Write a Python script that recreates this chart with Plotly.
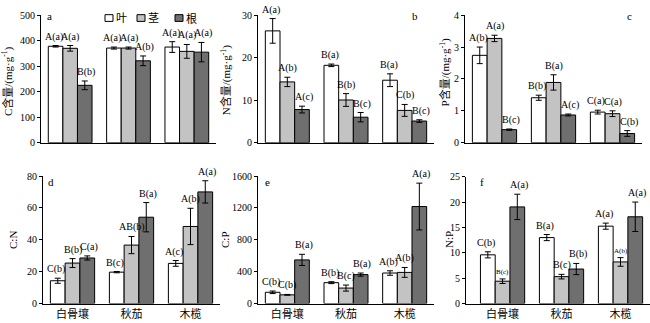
import plotly.graph_objects as go

W, H = 650, 323

sites = ["白骨壤", "秋茄", "木榄"]
organs = ["叶", "茎", "根"]
colors = ["#ffffff", "#c3c3c3", "#6f6f6f"]

# values[organ][site]
C_val = [[378, 371, 375], [370, 371, 358], [225, 321, 355]]
C_err = [[3, 4, 21], [11, 4, 27], [17, 19, 38]]
C_lab = [["A(a)", "A(a)", "A(a)"], ["A(a)", "A(a)", "A(a)"], ["B(b)", "A(b)", "A(a)"]]

N_val = [[26.3, 18.2, 14.7], [14.3, 10.05, 7.6], [7.8, 6.0, 5.1]]
N_err = [[2.9, 0.3, 1.5], [1.1, 1.5, 1.4], [0.8, 1.1, 0.3]]
N_lab = [["A(a)", "B(a)", "B(a)"], ["A(b)", "B(b)", "C(b)"], ["A(c)", "B(c)", "B(c)"]]

P_val = [[2.74, 1.41, 0.96], [3.27, 1.89, 0.91], [0.41, 0.87, 0.29]]
P_err = [[0.26, 0.08, 0.06], [0.1, 0.24, 0.09], [0.02, 0.03, 0.09]]
P_lab = [["A(b)", "B(b)", "C(a)"], ["A(a)", "B(a)", "C(a)"], ["B(c)", "A(c)", "C(b)"]]

CN_val = [[14.3, 19.7, 25.2], [25.4, 36.7, 48.4], [28.6, 54.2, 70.1]]
CN_err = [[1.6, 0.4, 1.8], [2.8, 5.4, 11.4], [1.3, 9.2, 7.0]]
CN_lab = [["C(b)", "B(c)", "A(c)"], ["B(b)", "AB(b)", "A(b)"], ["C(a)", "B(a)", "A(a)"]]

CP_val = [[141, 262, 383], [109, 194, 391], [548, 363, 1218]]
CP_err = [[16, 12, 28], [5, 38, 62], [70, 20, 294]]
CP_lab = [["C(b)", "B(b)", "A(b)"], ["C(b)", "B(c)", "A(b)"], ["B(a)", "B(a)", "A(a)"]]

NP_val = [[9.6, 13.0, 15.25], [4.4, 5.3, 8.2], [19.05, 6.8, 17.1]]
NP_err = [[0.6, 0.6, 0.6], [0.45, 0.45, 0.85], [2.5, 1.1, 2.9]]
NP_lab = [["C(b)", "B(a)", "A(a)"], ["B(c)", "B(c)", "A(b)"], ["A(a)", "B(b)", "A(a)"]]

titles = ["C含量/(mg·g<sup>-1</sup>)", "N含量/(mg·g<sup>-1</sup>)", "P含量/(mg·g<sup>-1</sup>)", "C:N", "C:P", "N:P"]
panel_letters = ["a", "b", "c", "d", "e", "f"]
y_ranges = [[0, 500], [0, 30], [0, 4], [0, 80], [0, 1600], [0, 25]]
y_ticks = [[0, 100, 200, 300, 400, 500], [0, 10, 20, 30], [0, 1, 2, 3, 4],
           [0, 20, 40, 60, 80], [0, 400, 800, 1200, 1600], [0, 5, 10, 15, 20, 25]]

panels = [(C_val, C_err, C_lab), (N_val, N_err, N_lab), (P_val, P_err, P_lab),
          (CN_val, CN_err, CN_lab), (CP_val, CP_err, CP_lab), (NP_val, NP_err, NP_lab)]

# pixel layout (left, right) of x axes and (bottom, top) of y axes
x_px = [(41, 216), (258, 434), (465, 642), (43, 220), (258, 434), (466, 650)]
x_rng = [[-0.5, 2.5], [-0.5, 2.5], [-0.5, 2.5], [-0.5, 2.5], [-0.5, 2.5], [-0.62, 2.5]]
y_px = [(142, 9.5), (142, 9.5), (142, 9.5), (309, 176.7), (309, 176.7), (309, 177.3)]
title_pos = [(7, 78), (226, 77), (445, 69), (13, 243), (225, 243), (449, 243)]
letter_pos = [(49, 10), (415, 10), (629, 10), (51, 183), (267, 183), (482, 183)]

FONT = "Liberation Serif, Times New Roman, Noto Sans CJK SC, serif"

fig = go.Figure()
annotations = []
shapes = []
layout = {}

for p, (vals, errs, labs) in enumerate(panels):
    sx = "" if p == 0 else str(p + 1)
    xa, ya = "x" + sx, "y" + sx
    for j in range(3):
        fig.add_trace(go.Bar(
            x=[0, 1, 2], y=vals[j], name=organs[j], xaxis=xa, yaxis=ya,
            marker=dict(color=colors[j], line=dict(color="#000000", width=1)),
            error_y=dict(type="data", array=errs[j], visible=True, color="#000000",
                         thickness=1, width=3),
            offsetgroup=str(j), showlegend=False,
        ))
        for i in range(3):
            lab = labs[j][i]
            small = (p == 5 and j == 1 and i in (0, 2))
            annotations.append(dict(
                x=i + (j - 1) * 0.25, y=vals[j][i] + errs[j][i], xref=xa, yref=ya,
                text=lab, showarrow=False, yanchor="bottom", yshift=1,
                xshift=(j - 1) * 1.5,
                font=dict(family=FONT, size=7 if small else 10, color="#000000"),
            ))
    l, r = x_px[p]
    b, t = y_px[p]
    bottom = p >= 3
    xdict = dict(
        domain=[l / W, r / W], anchor=ya, range=x_rng[p],
        showticklabels=bottom, ticks="", showline=True, linecolor="#000000",
        linewidth=1, showgrid=False, zeroline=False,
        tickfont=dict(family=FONT, size=11, color="#000000"),
    )
    if bottom:
        xdict.update(tickvals=[0, 1, 2], ticktext=sites)
    layout["xaxis" + sx] = xdict
    layout["yaxis" + sx] = dict(
        domain=[1 - b / H, 1 - t / H], anchor=xa, range=y_ranges[p],
        tickvals=y_ticks[p], ticks="outside", ticklen=3, tickcolor="#000000",
        showline=True, linecolor="#000000", linewidth=1, showgrid=False,
        zeroline=False, tickfont=dict(family=FONT, size=10, color="#000000"),
    )
    tx, ty = title_pos[p]
    annotations.append(dict(
        x=tx / W, y=1 - ty / H, xref="paper", yref="paper", text=titles[p],
        textangle=-90, showarrow=False, xanchor="center", yanchor="middle",
        font=dict(family=FONT, size=11, color="#000000"),
    ))
    lx, ly = letter_pos[p]
    annotations.append(dict(
        x=lx / W, y=1 - ly / H, xref="paper", yref="paper", text=panel_letters[p],
        showarrow=False, xanchor="center", yanchor="middle",
        font=dict(family=FONT, size=11, color="#000000"),
    ))

# legend (drawn manually as boxes + labels)
leg_x = [105, 137, 175]
for j in range(3):
    x0 = leg_x[j]
    shapes.append(dict(type="rect", xref="paper", yref="paper",
                       x0=x0 / W, x1=(x0 + 8) / W, y0=1 - 16 / H, y1=1 - 9 / H,
                       fillcolor=colors[j], line=dict(color="#000000", width=1)))
    annotations.append(dict(
        x=(x0 + 9) / W, y=1 - 12.5 / H, xref="paper", yref="paper", text=organs[j],
        showarrow=False, xanchor="left", yanchor="middle",
        font=dict(family=FONT, size=11, color="#000000"),
    ))

fig.update_layout(
    width=W, height=H, margin=dict(l=0, r=0, t=0, b=0),
    paper_bgcolor="#ffffff", plot_bgcolor="#ffffff",
    barmode="group", bargap=0.25, bargroupgap=0,
    annotations=annotations, shapes=shapes, showlegend=False,
    **layout,
)

fig.write_html("out.html")
